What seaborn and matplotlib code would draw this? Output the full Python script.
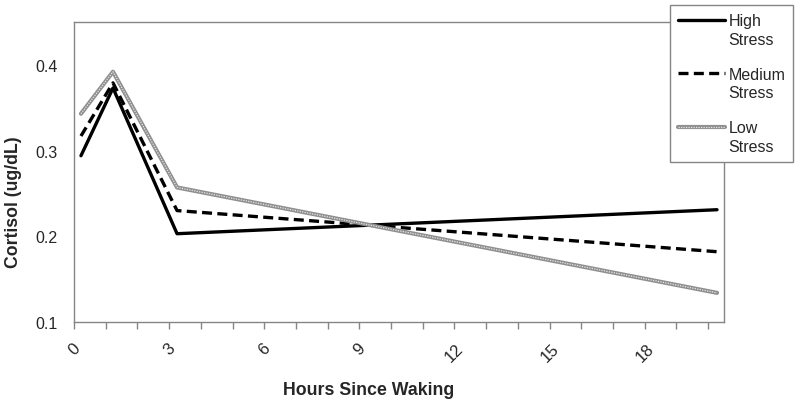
import pandas as pd
import numpy as np
import matplotlib
matplotlib.use("Agg")
import matplotlib.pyplot as plt
import matplotlib.transforms as mtransforms
import seaborn as sns
from matplotlib.lines import Line2D
from matplotlib.legend_handler import HandlerTuple, HandlerLine2D

# data
hours = [0.22, 1.23, 3.25, 20.28]
high_stress = [0.294, 0.373, 0.203, 0.231]
medium_stress = [0.317, 0.379, 0.230, 0.182]
low_stress = [0.343, 0.392, 0.257, 0.134]
group_names = ["High\nStress", "Medium\nStress", "Low\nStress"]
y_ticks = [0.1, 0.2, 0.3, 0.4]
x_labelled = [0, 3, 6, 9, 12, 15, 18]

df = pd.DataFrame({
    "hours": hours * 3,
    "cortisol": high_stress + medium_stress + low_stress,
    "group": [g for g in group_names for _ in hours],
})


# legend handle sits next to the first text line, not the middle
class TopLineHandler(HandlerLine2D):
    def create_artists(self, legend, orig_handle, xdescent, ydescent,
                       width, height, fontsize, trans):
        return super().create_artists(legend, orig_handle, xdescent,
                                      ydescent - 15, width, height,
                                      fontsize, trans)


sns.set_style("white")
plt.rcParams["font.family"] = ["Liberation Sans", "DejaVu Sans"]

fig = plt.figure(figsize=(8, 4.02), dpi=100)
ax = fig.add_axes([74 / 800, 1 - 323 / 402, (724 - 74) / 800, (323 - 23) / 402])

sub = df[df["group"] == group_names[0]]
sns.lineplot(data=sub, x="hours", y="cortisol", ax=ax, color="black",
             lw=2.4, sort=False, legend=False)
sub = df[df["group"] == group_names[1]]
sns.lineplot(data=sub, x="hours", y="cortisol", ax=ax, color="black",
             lw=2.4, sort=False, legend=False, linestyle=(0, (3, 1.6)))
sub = df[df["group"] == group_names[2]]
sns.lineplot(data=sub, x="hours", y="cortisol", ax=ax, color="#8f8f8f",
             lw=3.0, sort=False, legend=False)
sns.lineplot(data=sub, x="hours", y="cortisol", ax=ax, color="#e6e6e6",
             lw=0.9, sort=False, legend=False, linestyle=(0, (1, 1)))

lines = ax.get_lines()
handles = [lines[0], lines[1], (lines[2], lines[3])]

ax.set_xlim(0, 20.5)
ax.set_ylim(0.1, 0.45)
ax.set_yticks(y_ticks)
ax.set_yticklabels([f"{v:.1f}" for v in y_ticks])
ax.set_xticks(range(0, 21))
ax.set_xticklabels([str(i) if i in x_labelled else "" for i in range(0, 21)],
                   rotation=45, ha="center", va="top")
shift = mtransforms.ScaledTranslation(4 / 72, 0, fig.dpi_scale_trans)
for lab in ax.get_xticklabels():
    lab.set_transform(lab.get_transform() + shift)

for s in ax.spines.values():
    s.set_color("#858585")
    s.set_linewidth(1.0)
ax.tick_params(axis="x", direction="out", length=5, width=1, color="#858585",
               labelsize=12, pad=8, bottom=True)
ax.tick_params(axis="y", length=0, labelsize=11.5, pad=12)

ax.set_xlabel("Hours Since Waking", fontsize=12.8, fontweight="bold")
ax.set_ylabel("Cortisol (ug/dL)", fontsize=12.7, fontweight="bold")
ax.xaxis.set_label_coords(0.454, -0.197)
ax.yaxis.set_label_coords(-0.08, 0.403)

leg = fig.legend(handles, group_names, loc="upper left",
                 bbox_to_anchor=(670 / 800, 1 - 6 / 402),
                 bbox_transform=fig.transFigure,
                 handler_map={tuple: HandlerTuple(ndivide=1),
                              Line2D: TopLineHandler()},
                 fontsize=11.5, frameon=True, fancybox=False, framealpha=1,
                 edgecolor="#858585", handlelength=2.95, handletextpad=0.2,
                 labelspacing=1.25, borderpad=0.5, borderaxespad=0)
leg.get_frame().set_linewidth(1.0)
for t in leg.get_texts():
    t.set_linespacing(1.3)

fig.savefig("out.png", dpi=100)
